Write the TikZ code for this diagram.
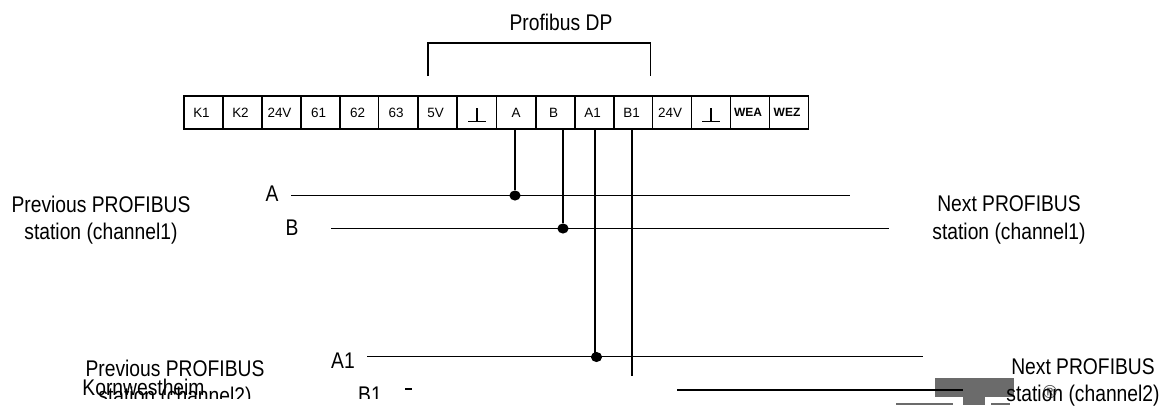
\documentclass[tikz,border=0pt]{standalone}
\usepackage{fontspec}
\usetikzlibrary{shapes.geometric}
\setmainfont{Liberation Sans}
\newfontfamily\labfont[FakeStretch=0.85]{Liberation Sans}
\tikzset{
  x=0.75pt,y=-0.75pt,
  wire/.style={draw=black,line width=1.2pt},
  cellbox/.style={draw=black,line width=1.15pt,fill=white,minimum width=29pt,minimum height=24.75pt,inner sep=0pt,font=\fontsize{10.1}{11}\selectfont},
  boldcell/.style={cellbox,font=\fontsize{9}{10}\bfseries\selectfont},
  lab/.style={inner sep=0pt,align=center,font=\labfont\fontsize{17}{20.6}\selectfont},
  dot/.style={ellipse,fill=black,minimum width=8.4pt,minimum height=7.6pt,inner sep=0pt},
  logo/.style={fill=black!58,draw=none},
}
\begin{document}
\begin{tikzpicture}
\useasboundingbox (0,0) rectangle (1163,405);
% cells
\foreach \n/\cx/\t in {c1/203.5/K1,c2/242.5/K2,c3/281.5/24V,c4/320.5/61,c5/359.5/62,c6/398/63,c7/437.5/5V,c8/477/{},c10/555.5/B,c11/594.5/A1,c12/633.5/B1,c13/672/24V}{
  \node[cellbox] (\n) at (\cx,112.5) {\hspace*{-3pt}\t};
}
\node[cellbox] (c9) at (516,112.5) {A};
\node[cellbox] (c14) at (711,112.5) {};
\node[boldcell] (c15) at (750,112.5) {\hspace*{-3pt}WEA};
\node[boldcell] (c16) at (789,112.5) {\hspace*{-3pt}WEZ};
% earth symbols
\foreach \n in {c8,c14}{
  \draw[line width=1pt] ([xshift=-6.75pt,yshift=-6.9pt]\n.center) -- ([xshift=6.75pt,yshift=-6.9pt]\n.center);
  \draw[line width=1pt] ([yshift=-6.9pt]\n.center) -- ([yshift=3.4pt]\n.center);
}
% bracket
\coordinate (bl) at (428,76);
\coordinate (br) at (650.5,76);
\draw[wire] (bl) -- (428,43) -- (650.5,43) -- (br);
\node[lab,anchor=base] (title) at (561,30) {Profibus DP};
% buses
\coordinate (al) at (291,195.5); \coordinate (ar) at (850,195.5);
\coordinate (bbl) at (331,228.5); \coordinate (bbr) at (889,228.5);
\coordinate (a1l) at (367,356.5); \coordinate (a1r) at (923,356.5);
\coordinate (b1l) at (677,390); \coordinate (b1r) at (963,390);
% logo (behind)
\fill[logo] (935,378) rectangle (1014,397);
\fill[logo] (963,397) rectangle (985,405);
\fill[logo] (896,403) rectangle (953,405);
\fill[logo] (991,403) rectangle (1010,405);
\node[inner sep=0pt,text=black!70,font=\fontsize{14}{14}\selectfont] (reg) at (1050,392) {®};
\draw[wire] (al) -- (ar);
\draw[wire] (bbl) -- (bbr);
\draw[wire] (a1l) -- (a1r);
\draw[wire] (b1l) -- (b1r);
\draw[line width=0.8pt] (405,389) -- (412,389);
% junctions
\node[dot] (j1) at (515,195.5) {};
\node[dot] (j2) at (563,228.5) {};
\node[dot] (j3) at (596.5,357) {};
\coordinate (end) at (632,375.5);
\draw[wire] (515,129) -- (j1);
\draw[wire] (563,129) -- (j2);
\draw[wire] (595,129) -- (595,357);
\draw[wire,line width=1.35pt] (632,129) -- (end);
% labels
\node[lab,anchor=base] (la) at (272,201.5) {A};
\node[lab,anchor=base] (lb) at (292,235) {B};
\node[lab,anchor=base] (la1) at (343,368) {A1};
\node[lab] (prev1) at (101,220) {Previous PROFIBUS\\station (channel1)};
\node[lab] (next1) at (1009,220) {Next PROFIBUS\\station (channel1)};
\node[lab] (next2) at (1083,382.5) {Next PROFIBUS\\station (channel2)};
\begin{scope}
\clip (0,0) rectangle (1163,398);
\node[lab] (prev2) at (175,384) {Previous PROFIBUS\\station (channel2)};
\node[lab,anchor=base] (lb1) at (370,402) {B1};
\node[lab,anchor=base] (korn) at (143.5,395) {Kornwestheim};
\end{scope}
\end{tikzpicture}
\end{document}
